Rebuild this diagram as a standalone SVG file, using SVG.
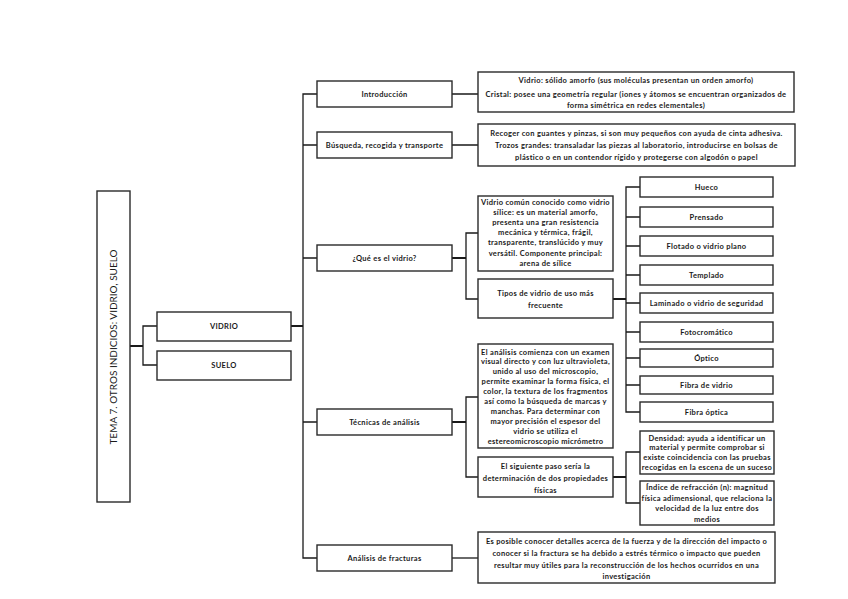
<svg xmlns="http://www.w3.org/2000/svg" width="848" height="599" viewBox="0 0 848 599">
<style>
.b{fill:#fff;stroke:#2a2a2a;stroke-width:1.4}
.t{font-family:Lato,"Liberation Sans",sans-serif;font-size:7.5px;letter-spacing:0.33px;font-weight:bold;fill:#1a1a1a;text-anchor:middle}
.c{fill:none;stroke:#1a1a1a;stroke-width:1.3}
.k{fill:none;stroke:#1a1a1a;stroke-width:2}
</style>
<rect width="848" height="599" fill="#fff"/>
<g id="connectors">
<path class="k" d="M130 346H143"/>
<path class="c" d="M157 326H143V365H157"/>
<path class="k" d="M291 326H303"/>
<path class="c" d="M317 94H303V558H317M303 145H317M303 258H317M303 422H317"/>
<path class="c" d="M452 94H478M452 145H478"/>
<path class="k" d="M452 258H466"/>
<path class="c" d="M478 233H466V299H478"/>
<path class="k" d="M613 299H626"/>
<path class="c" d="M640 187H626V412H640M626 217H640M626 246H640M626 275H640M626 303H640M626 332H640M626 358H640M626 385H640"/>
<path class="k" d="M452 422H466"/>
<path class="c" d="M478 397H466V477H478"/>
<path class="k" d="M613 477H626"/>
<path class="c" d="M640 452H626V503H640"/>
<path class="c" d="M452 558H478"/>
</g>
<g id="title">
<rect class="b" x="97" y="191" width="33" height="311" stroke="#444" stroke-width="1.8"/>
<text x="0" y="0" transform="translate(117 347) rotate(-90)" font-family="Lato,'Liberation Sans',sans-serif" font-size="10" fill="#1a1a1a" text-anchor="middle">TEMA 7. OTROS INDICIOS: VIDRIO, SUELO</text>
</g>
<g id="vidrio"><rect class="b" x="157" y="312" width="134" height="29"/><text class="t" x="224" y="329">VIDRIO</text></g>
<g id="suelo"><rect class="b" x="157" y="351" width="134" height="29"/><text class="t" x="224" y="368">SUELO</text></g>
<g id="introduccion"><rect class="b" x="317" y="81" width="135" height="26"/><text class="t" x="384.5" y="96.5">Introducción</text></g>
<g id="busqueda"><rect class="b" x="317" y="132" width="135" height="26"/><text class="t" x="384.5" y="147.5">Búsqueda, recogida y transporte</text></g>
<g id="que-es"><rect class="b" x="317" y="245" width="135" height="26"/><text class="t" x="384.5" y="260.5">¿Qué es el vidrio?</text></g>
<g id="tecnicas"><rect class="b" x="317" y="409" width="135" height="26"/><text class="t" x="384.5" y="424.5">Técnicas de análisis</text></g>
<g id="fracturas"><rect class="b" x="317" y="545" width="135" height="26"/><text class="t" x="384.5" y="560.5">Análisis de fracturas</text></g>
<g id="intro-text"><rect class="b" x="478" y="72" width="316" height="40"/>
<text class="t" x="636" y="83">Vidrio: sólido amorfo (sus moléculas presentan un orden amorfo)</text>
<text class="t" x="636" y="97">Cristal: posee una geometría regular (iones y átomos se encuentran organizados de</text>
<text class="t" x="636" y="108">forma simétrica en redes elementales)</text></g>
<g id="recoger"><rect class="b" x="478" y="124" width="317" height="42"/>
<text class="t" x="636.5" y="135.5">Recoger con guantes y pinzas, si son muy pequeños con ayuda de cinta adhesiva.</text>
<text class="t" x="636.5" y="147.5">Trozos grandes: transaladar las piezas al laboratorio, introducirse en bolsas de</text>
<text class="t" x="636.5" y="159.5">plástico o en un contendor rígido y protegerse con algodón o papel</text></g>
<g id="vidrio-comun"><rect class="b" x="478" y="196" width="135" height="75"/>
<text class="t" x="545.5" y="204.5">Vidrio común conocido como vidrio</text>
<text class="t" x="545.5" y="214.7">sílice: es un material amorfo,</text>
<text class="t" x="545.5" y="224.9">presenta una gran resistencia</text>
<text class="t" x="545.5" y="235.1">mecánica y térmica, frágil,</text>
<text class="t" x="545.5" y="245.3">transparente, translúcido y muy</text>
<text class="t" x="545.5" y="255.5">versátil. Componente principal:</text>
<text class="t" x="545.5" y="265.7">arena de sílice</text></g>
<g id="tipos"><rect class="b" x="478" y="279" width="135" height="39"/>
<text class="t" x="545.5" y="295.5">Tipos de vidrio de uso más</text>
<text class="t" x="545.5" y="307.5">frecuente</text></g>
<g id="hueco"><rect class="b" x="640" y="177" width="133" height="20"/><text class="t" x="706.5" y="189.5">Hueco</text></g>
<g id="prensado"><rect class="b" x="640" y="207" width="133" height="20"/><text class="t" x="706.5" y="219.5">Prensado</text></g>
<g id="flotado"><rect class="b" x="640" y="236" width="133" height="20"/><text class="t" x="706.5" y="248.5">Flotado o vidrio plano</text></g>
<g id="templado"><rect class="b" x="640" y="265" width="133" height="20"/><text class="t" x="706.5" y="277.5">Templado</text></g>
<g id="laminado"><rect class="b" x="640" y="293" width="133" height="20"/><text class="t" x="706.5" y="305.5">Laminado o vidrio de seguridad</text></g>
<g id="fotocromatico"><rect class="b" x="640" y="322" width="133" height="20"/><text class="t" x="706.5" y="334.5">Fotocromático</text></g>
<g id="optico"><rect class="b" x="640" y="349" width="133" height="18"/><text class="t" x="706.5" y="360.5">Óptico</text></g>
<g id="fibra-vidrio"><rect class="b" x="640" y="376" width="133" height="18"/><text class="t" x="706.5" y="387.5">Fibra de vidrio</text></g>
<g id="fibra-optica"><rect class="b" x="640" y="402" width="133" height="20"/><text class="t" x="706.5" y="414.5">Fibra óptica</text></g>
<g id="analisis"><rect class="b" x="478" y="344" width="135" height="104"/>
<text class="t" x="545.5" y="354.5">El análisis comienza con un examen</text>
<text class="t" x="545.5" y="364.4">visual directo y con luz ultravioleta,</text>
<text class="t" x="545.5" y="374.3">unido al uso del microscopio,</text>
<text class="t" x="545.5" y="384.2">permite examinar la forma física, el</text>
<text class="t" x="545.5" y="394.1">color, la textura de los fragmentos</text>
<text class="t" x="545.5" y="404">así como la búsqueda de marcas y</text>
<text class="t" x="545.5" y="413.9">manchas. Para determinar con</text>
<text class="t" x="545.5" y="423.8">mayor precisión el espesor del</text>
<text class="t" x="545.5" y="433.7">vidrio se utiliza el</text>
<text class="t" x="545.5" y="443.6">estereomicroscopio micrómetro</text></g>
<g id="siguiente"><rect class="b" x="478" y="457" width="135" height="40"/>
<text class="t" x="545.5" y="468.5">El siguiente paso sería la</text>
<text class="t" x="545.5" y="480.5">determinación de dos propiedades</text>
<text class="t" x="545.5" y="492.5">físicas</text></g>
<g id="densidad"><rect class="b" x="640" y="431" width="134" height="43"/>
<text class="t" x="707" y="440.5">Densidad: ayuda a identificar un</text>
<text class="t" x="707" y="450">material y permite comprobar si</text>
<text class="t" x="707" y="459.5">existe coincidencia con las pruebas</text>
<text class="t" x="707" y="469.5">recogidas en la escena de un suceso</text></g>
<g id="indice"><rect class="b" x="640" y="481" width="134" height="44"/>
<text class="t" x="707" y="489.5">Índice de refracción (n): magnitud</text>
<text class="t" x="707" y="500.5">física adimensional, que relaciona la</text>
<text class="t" x="707" y="510.5">velocidad de la luz entre dos</text>
<text class="t" x="707" y="521.5">medios</text></g>
<g id="fracturas-text"><rect class="b" x="478" y="532" width="297" height="51"/>
<text class="t" x="626.5" y="543.5">Es posible conocer detalles acerca de la fuerza y de la dirección del impacto o</text>
<text class="t" x="626.5" y="555.5">conocer si la fractura se ha debido a estrés térmico o impacto que pueden</text>
<text class="t" x="626.5" y="567.5">resultar muy útiles para la reconstrucción de los hechos ocurridos en una</text>
<text class="t" x="626.5" y="578.5">investigación</text></g>
</svg>
